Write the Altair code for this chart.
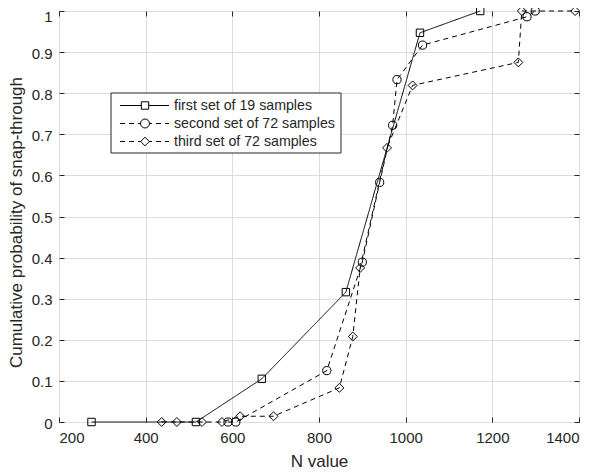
import altair as alt
import pandas as pd

# ---- data ----
s1_x = [275, 516, 668, 862, 1033, 1172]
s1_y = [0, 0, 0.105, 0.316, 0.947, 1.0]
s2_x = [590, 608, 818, 900, 940, 970, 980, 1039, 1280, 1299]
s2_y = [0, 0, 0.125, 0.389, 0.583, 0.722, 0.833, 0.917, 0.986, 1.0]
s3_x = [437, 472, 530, 576, 618, 695, 847, 878, 895, 957, 1016, 1260, 1268, 1391]
s3_y = [0, 0, 0, 0, 0.014, 0.014, 0.083, 0.208, 0.375, 0.667, 0.819, 0.875, 1.0, 1.0]
names = ["first set of 19 samples", "second set of 72 samples", "third set of 72 samples"]
x_ticks = [200, 400, 600, 800, 1000, 1200, 1400]
y_ticks = [0, 0.1, 0.2, 0.3, 0.4, 0.5, 0.6, 0.7, 0.8, 0.9, 1.0]

rows = []
for name, xs, ys in zip(names, [s1_x, s2_x, s3_x], [s1_y, s2_y, s3_y]):
    for xv, yv in zip(xs, ys):
        rows.append({"series": name, "N": xv, "p": yv})
df = pd.DataFrame(rows)

W, H = 520, 411
FONT = "Liberation Sans"
INK = "#262626"
dashes = [[1, 0], [5, 4], [5, 4]]
shapes = ["square", "circle", "diamond"]
sizes = [55, 80, 75]

xscale = alt.Scale(domain=[200, 1400], nice=False, zero=False)
yscale = alt.Scale(domain=[0, 1], nice=False)

main_x = alt.Axis(values=x_ticks, format="d", grid=True, gridColor="#dcdcdc", domain=False,
                  ticks=False, labelFont=FONT, labelFontSize=15, labelColor=INK, labelPadding=8,
                  title="N value", titleFont=FONT, titleFontSize=17, titleFontWeight="normal",
                  titleColor=INK, titleBaseline="alphabetic", titleY=44, orient="bottom")
main_y = alt.Axis(values=y_ticks, format="~g", grid=True, gridColor="#dcdcdc", domain=False,
                  ticks=False, labelFont=FONT, labelFontSize=15, labelColor=INK, labelPadding=7,
                  labelOffset={"condition": {"test": "datum.value == 1", "value": 5}, "value": 1},
                  title="Cumulative probability of snap-through", titleFont=FONT, titleFontSize=17,
                  titleFontWeight="normal", titleColor=INK, titleBaseline="alphabetic",
                  titleAlign="center", titleX=-38, titleY=211, orient="left")


def tick_axis(orient, values):
    return alt.Axis(orient=orient, values=values, labels=False, domain=False, grid=False,
                    ticks=True, tickSize=5, tickColor=INK, offset=-5, title=None, zindex=2)


lines = alt.Chart(df).mark_line(strokeWidth=1, color="black").encode(
    x=alt.X("N:Q", scale=xscale, axis=main_x),
    y=alt.Y("p:Q", scale=yscale, axis=main_y),
    strokeDash=alt.StrokeDash("series:N", scale=alt.Scale(domain=names, range=dashes), legend=None),
    detail="series:N",
)

points = alt.Chart(df).mark_point(filled=False, color="black", strokeWidth=1, opacity=1).encode(
    x=alt.X("N:Q", scale=xscale, axis=tick_axis("bottom", x_ticks)),
    y=alt.Y("p:Q", scale=yscale, axis=tick_axis("left", y_ticks)),
    shape=alt.Shape("series:N", scale=alt.Scale(domain=names, range=shapes), legend=None),
    size=alt.Size("series:N", scale=alt.Scale(domain=names, range=sizes), legend=None),
)

ghost = alt.Chart(df).mark_point(opacity=0).encode(
    x=alt.X("N:Q", scale=xscale, axis=tick_axis("top", x_ticks)),
    y=alt.Y("p:Q", scale=yscale, axis=tick_axis("right", y_ticks)),
)

# ---- manual legend (MATLAB style: line with marker in the middle) ----
one = alt.Data(values=[{"a": 1}])
leg_layers = [
    alt.Chart(one).mark_rect(fill="white", stroke=INK, strokeWidth=1).encode(
        x=alt.value(52), x2=alt.value(282), y=alt.value(82), y2=alt.value(142))
]
row_y = [94.5, 112.5, 130.5]
for i, name in enumerate(names):
    leg_layers.append(alt.Chart(one).mark_rule(color="black", strokeWidth=1,
                                               strokeDash=dashes[i]).encode(
        x=alt.value(61), x2=alt.value(110), y=alt.value(row_y[i])))
    leg_layers.append(alt.Chart(one).mark_point(shape=shapes[i], size=sizes[i], filled=False,
                                                color="black", strokeWidth=1, opacity=1,
                                                fill="white", fillOpacity=1).encode(
        x=alt.value(86), y=alt.value(row_y[i])))
    leg_layers.append(alt.Chart(one).mark_text(text=name, align="left", baseline="middle",
                                               font=FONT, fontSize=14.2, color=INK).encode(
        x=alt.value(115), y=alt.value(row_y[i] + 0.5)))

chart = alt.layer(lines, points, ghost, *leg_layers).resolve_axis(
    x="independent", y="independent"
).properties(
    width=W, height=H,
    autosize=alt.AutoSizeParams(type="none"),
    padding={"left": 51, "top": 3, "right": 10, "bottom": 48},
    background="white",
).configure_view(stroke=INK, strokeWidth=1)

chart.save("out.html", embed_options={"renderer": "svg", "actions": False})
